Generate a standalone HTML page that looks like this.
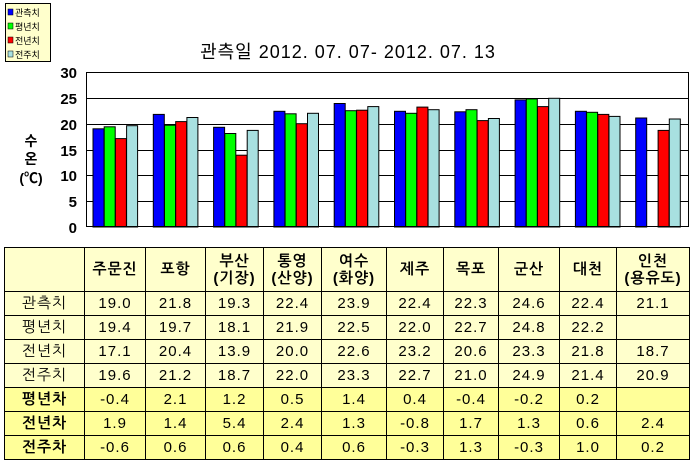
<!DOCTYPE html>
<html><head><meta charset="utf-8"><style>
body{margin:0;width:696px;height:466px;background:#fff;overflow:hidden;position:relative;font-family:"Liberation Sans","Noto Sans CJK KR",sans-serif}
table{position:absolute;left:4px;top:247px;border-collapse:collapse;table-layout:fixed}
td{border:1px solid #000;padding:0;text-align:center;font-size:15px;height:23px;background:#FFFFCC;letter-spacing:1px;font-family:"Liberation Sans","NanumGothic","Noto Sans CJK KR",sans-serif}
tr.h td{height:43px;font-weight:bold;line-height:17px}
tr.b td{background:#FFFF99}
tr.b td:first-child{font-weight:bold}
</style></head><body>
<svg width="696" height="240" style="position:absolute;left:0;top:0" font-family="Liberation Sans, Noto Sans CJK KR, sans-serif">
<rect x="5.5" y="3.5" width="45" height="58" fill="#FFFFCC" stroke="#000"/>
<g font-size="9">
<rect x="8" y="9" width="5" height="6" fill="#0000FF" stroke="#000" stroke-width=".5"/><text x="15" y="16">관측치</text>
<rect x="8" y="23" width="5" height="6" fill="#00FF00" stroke="#000" stroke-width=".5"/><text x="15" y="30">평년치</text>
<rect x="8" y="37" width="5" height="6" fill="#FF0000" stroke="#000" stroke-width=".5"/><text x="15" y="44">전년치</text>
<rect x="8" y="51" width="5" height="6" fill="#A8E0E0" stroke="#000" stroke-width=".5"/><text x="15" y="58">전주치</text>
</g>
<text x="348" y="58" font-size="18" text-anchor="middle" letter-spacing="1">관측일 2012. 07. 07-  2012. 07. 13</text>
<g stroke="#000" stroke-width="1">
<line x1="86" y1="98.5" x2="689" y2="98.5"/><line x1="86" y1="124.5" x2="689" y2="124.5"/><line x1="86" y1="150.5" x2="689" y2="150.5"/><line x1="86" y1="175.5" x2="689" y2="175.5"/><line x1="86" y1="201.5" x2="689" y2="201.5"/>
</g>
<g font-size="15" font-weight="bold" text-anchor="end">
<text x="77" y="78">30</text><text x="77" y="104">25</text><text x="77" y="130">20</text><text x="77" y="156">15</text><text x="77" y="181">10</text><text x="77" y="207">5</text><text x="77" y="233">0</text>
</g>
<g font-size="14" font-weight="bold" text-anchor="middle"><text x="31" y="146">수</text><text x="31" y="164">온</text><text x="31" y="183">(℃)</text></g>
<g id="bars" stroke="#000" stroke-width="1"></g>
<rect x="86.5" y="72.5" width="602" height="154" fill="none" stroke="#000"/>
</svg>
<table>
<colgroup><col style="width:80px"><col style="width:61px"><col style="width:60px"><col style="width:58px"><col style="width:58px"><col style="width:65px"><col style="width:57px"><col style="width:55px"><col style="width:61px"><col style="width:57px"><col style="width:73px"></colgroup>
<tr class="h"><td></td><td>주문진</td><td>포항</td><td>부산<br>(기장)</td><td>통영<br>(산양)</td><td>여수<br>(화양)</td><td>제주</td><td>목포</td><td>군산</td><td>대천</td><td>인천<br>(용유도)</td></tr>
<tr><td>관측치</td><td>19.0</td><td>21.8</td><td>19.3</td><td>22.4</td><td>23.9</td><td>22.4</td><td>22.3</td><td>24.6</td><td>22.4</td><td>21.1</td></tr>
<tr><td>평년치</td><td>19.4</td><td>19.7</td><td>18.1</td><td>21.9</td><td>22.5</td><td>22.0</td><td>22.7</td><td>24.8</td><td>22.2</td><td></td></tr>
<tr><td>전년치</td><td>17.1</td><td>20.4</td><td>13.9</td><td>20.0</td><td>22.6</td><td>23.2</td><td>20.6</td><td>23.3</td><td>21.8</td><td>18.7</td></tr>
<tr><td>전주치</td><td>19.6</td><td>21.2</td><td>18.7</td><td>22.0</td><td>23.3</td><td>22.7</td><td>21.0</td><td>24.9</td><td>21.4</td><td>20.9</td></tr>
<tr class="b"><td>평년차</td><td>-0.4</td><td>2.1</td><td>1.2</td><td>0.5</td><td>1.4</td><td>0.4</td><td>-0.4</td><td>-0.2</td><td>0.2</td><td></td></tr>
<tr class="b"><td>전년차</td><td>1.9</td><td>1.4</td><td>5.4</td><td>2.4</td><td>1.3</td><td>-0.8</td><td>1.7</td><td>1.3</td><td>0.6</td><td>2.4</td></tr>
<tr class="b"><td>전주차</td><td>-0.6</td><td>0.6</td><td>0.6</td><td>0.4</td><td>0.6</td><td>-0.3</td><td>1.3</td><td>-0.3</td><td>1.0</td><td>0.2</td></tr>
</table>
<script>
var d=[[19.0,19.4,17.1,19.6],[21.8,19.7,20.4,21.2],[19.3,18.1,13.9,18.7],[22.4,21.9,20.0,22.0],[23.9,22.5,22.6,23.3],[22.4,22.0,23.2,22.7],[22.3,22.7,20.6,21.0],[24.6,24.8,23.3,24.9],[22.4,22.2,21.8,21.4],[21.1,null,18.7,20.9]];
var c=["#0000FF","#00FF00","#FF0000","#A8E0E0"],g=document.getElementById("bars"),s="";
for(var i=0;i<10;i++)for(var j=0;j<4;j++){var v=d[i][j];if(v==null)continue;var x=93+i*60.3+j*11.2,h=v*5.167;s+='<rect x="'+x.toFixed(1)+'" y="'+(227-h).toFixed(1)+'" width="11" height="'+h.toFixed(1)+'" fill="'+c[j]+'"/>';}
g.innerHTML=s;
</script>
</body></html>
